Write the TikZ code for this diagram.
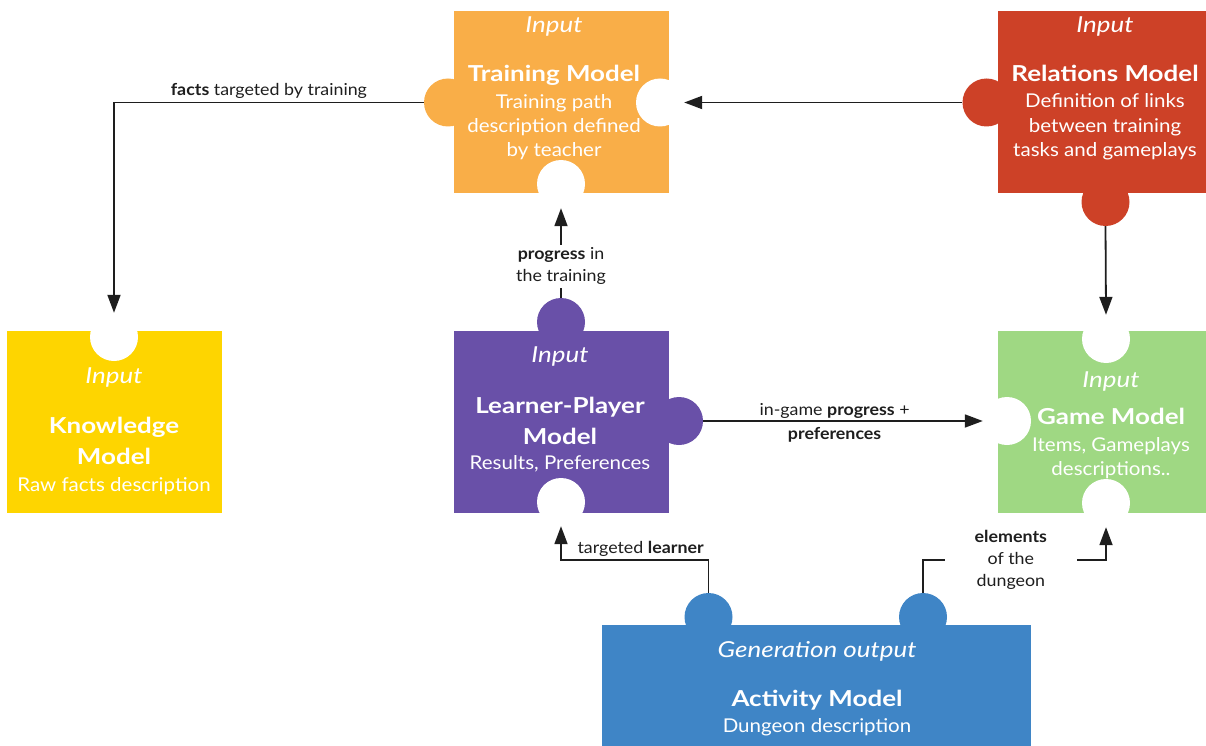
\documentclass[tikz,border=0pt]{standalone}
\usepackage{fontspec}
\setmainfont{Lato}[FakeStretch=1.08]
\newfontfamily\fWide{Lato}[FakeStretch=1.18]
\usetikzlibrary{arrows.meta}
\definecolor{cOrange}{HTML}{F9AE48}
\definecolor{cRed}{HTML}{CD4127}
\definecolor{cYellow}{HTML}{FED500}
\definecolor{cPurple}{HTML}{6950A8}
\definecolor{cGreen}{HTML}{9FD883}
\definecolor{cBlue}{HTML}{3F85C6}
\definecolor{cInk}{HTML}{1E1E1E}
\tikzset{
  piece/.style={rectangle, draw=none, inner sep=0pt},
  knob/.style={circle, draw=none, inner sep=0pt, minimum size=48pt},
  hole/.style={knob, fill=white},
  conn/.style={line width=1.8pt, draw=cInk},
  arr/.style={conn, -{Triangle[length=18pt,width=13pt]}},
  txt/.style={anchor=base, inner sep=0pt, text=white},
  inp/.style={txt, font=\fontsize{22}{26}\selectfont\fWide\itshape},
  ttl/.style={txt, font=\fontsize{22}{26}\selectfont\fWide\bfseries},
  dsc/.style={txt, font=\fontsize{19}{24}\selectfont},
  lbl/.style={font=\fontsize{16.5}{22}\selectfont, text=cInk, inner sep=2pt},
}
\begin{document}
\begin{tikzpicture}[x=1pt,y=-1pt]
\useasboundingbox (0,0) rectangle (1206,746);
% boxes
\node[piece, fill=cOrange, minimum width=214.5pt, minimum height=182pt] (train) at (561.25,102) {};
\node[piece, fill=cRed, minimum width=208pt, minimum height=182pt] (rel) at (1102,102) {};
\node[piece, fill=cYellow, minimum width=214.5pt, minimum height=182pt] (know) at (114.25,421.5) {};
\node[piece, fill=cPurple, minimum width=214.5pt, minimum height=182pt] (learn) at (561.25,421.5) {};
\node[piece, fill=cGreen, minimum width=208pt, minimum height=182pt] (game) at (1102,421.5) {};
\node[piece, fill=cBlue, minimum width=429pt, minimum height=121pt] (act) at (816.5,685.5) {};
% knobs
\node[knob, fill=cOrange] (trainL) at (448,102.5) {};
\node[knob, fill=cRed] (relL) at (986.5,102.5) {};
\node[knob, fill=cRed] (relB) at (1105.5,202) {};
\node[knob, fill=cPurple] (learnT) at (561,322) {};
\node[knob, fill=cPurple] (learnR) at (679,421) {};
\node[knob, fill=cBlue] (actA) at (708.5,617) {};
\node[knob, fill=cBlue] (actB) at (923,617) {};
% holes
\node[hole] (trainR) at (660,102.5) {};
\node[hole] (trainB) at (561,184) {};
\node[hole] (knowT) at (114,337) {};
\node[hole] (learnB) at (561,502) {};
\node[hole] (gameT) at (1106,339) {};
\node[hole] (gameL) at (1007,421) {};
\node[hole] (gameB) at (1106,503) {};
% texts
\node[inp] (trainI) at (554,33) {Input};
\node[ttl] (trainN) at (554,82) {Training Model};
\node[dsc] (trainD1) at (554,109) {Training path};
\node[dsc] (trainD2) at (554,133) {description defined};
\node[dsc] (trainD3) at (554,157) {by teacher};
\node[inp] (relI) at (1105,33) {Input};
\node[ttl] (relN) at (1105,82) {Relations Model};
\node[dsc] (relD1) at (1105,108) {Definition of links};
\node[dsc] (relD2) at (1105,133) {between training};
\node[dsc] (relD3) at (1105,157) {tasks and gameplays};
\node[inp] (knowI) at (114,383) {Input};
\node[ttl] (knowN1) at (114,433) {Knowledge};
\node[ttl] (knowN2) at (114,464) {Model};
\node[dsc] (knowD) at (114,491) {Raw facts description};
\node[inp] (learnI) at (560,362) {Input};
\node[ttl] (learnN1) at (560,413) {Learner-Player};
\node[ttl] (learnN2) at (560,444) {Model};
\node[dsc] (learnD) at (560,469) {Results, Preferences};
\node[inp] (gameI) at (1111,387) {Input};
\node[ttl] (gameN) at (1111,424) {Game Model};
\node[dsc] (gameD1) at (1111,451) {Items, Gameplays};
\node[dsc] (gameD2) at (1111,475) {descriptions..};
\node[inp] (actI) at (817,657) {Generation output};
\node[ttl] (actN) at (817,706) {Activity Model};
\node[dsc] (actD) at (817,732) {Dungeon description};
% connectors
\draw[arr] (trainL.west) -| node[lbl, pos=0.25, above=1pt] (lfacts) {\textbf{facts} targeted by training} (knowT.north);
\draw[arr] (relL.west) -- (trainR.east);
\draw[arr] (relB.south) -- (gameT.north);
\draw[arr] (learnT.north) -- node[lbl, pos=0.35, fill=white, align=center, inner xsep=2pt, inner ysep=3pt] (lprog) {\textbf{progress} in\\the training} (trainB.south);
\draw[arr] (learnR.east) -- node[lbl, pos=0.47, above=0pt] (lingame) {in-game \textbf{progress} +} node[lbl, pos=0.47, below=3pt] (lpref) {\textbf{preferences}} (gameL.west);
\draw[arr] (actA.north) -- ++(0,-33) -| node[lbl, pos=0.23, above=0pt] (ltarget) {targeted \textbf{learner}} (learnB.south);
\draw[arr] (actB.north) -- ++(0,-33) -| node[lbl, pos=0.24, fill=white, align=center, inner xsep=30pt, inner ysep=2pt] (lelem) {\textbf{elements}\\of the\\dungeon} (gameB.south);
\end{tikzpicture}
\end{document}
